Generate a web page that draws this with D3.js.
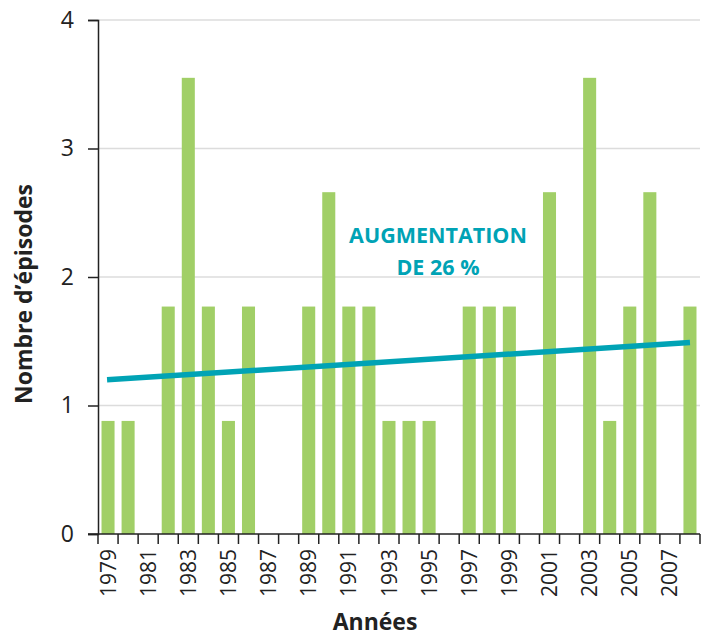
<!DOCTYPE html>
<html><head><meta charset="utf-8">
<script src="https://d3js.org/d3.v7.min.js"></script>
<style>body{margin:0;background:#fff}</style>
</head><body>
<svg id="c" width="705" height="637"></svg>
<script>
const years = [1979,1980,1981,1982,1983,1984,1985,1986,1987,1988,1989,1990,1991,1992,1993,1994,1995,1996,1997,1998,1999,2000,2001,2002,2003,2004,2005,2006,2007,2008];
const episodes = [0.88,0.88,0,1.77,3.55,1.77,0.88,1.77,0,0,1.77,2.66,1.77,1.77,0.88,0.88,0.88,0,1.77,1.77,1.77,0,2.66,0,3.55,0.88,1.77,2.66,0,1.77];
const trendYears = [1979, 2008];
const trendValues = [1.20, 1.49];
const yTicks = [0,1,2,3,4];
const xTickLabels = [1979,1981,1983,1985,1987,1989,1991,1993,1995,1997,1999,2001,2003,2005,2007];
const annotation = ["AUGMENTATION","DE 26 %"];

const FONT = "'Open Sans',sans-serif";
const svg = d3.select("#c");
const mLeft = 98, mRight = 700, mTop = 20, mBottom = 534;
const x = d3.scaleBand().domain(years).range([mLeft, mRight]).paddingInner(0.35).paddingOuter(0.175);
const y = d3.scaleLinear().domain([0,4]).range([mBottom, mTop]);

// gridlines
svg.append("g").selectAll("line").data(yTicks.filter(d=>d>0)).join("line")
  .attr("x1", mLeft).attr("x2", mRight).attr("y1", d=>y(d)).attr("y2", d=>y(d))
  .attr("stroke", "#dcdcdc").attr("stroke-width", 1.5);

// bars
svg.append("g").selectAll("rect").data(years.map((yr,i)=>({yr, v:episodes[i]})).filter(d=>d.v>0)).join("rect")
  .attr("x", d=>x(d.yr)).attr("width", x.bandwidth())
  .attr("y", d=>y(d.v)).attr("height", d=>y(0)-y(d.v))
  .attr("fill", "#a1cf67");

// y axis
const yAxis = svg.append("g").attr("transform", `translate(${mLeft},0)`)
  .call(d3.axisLeft(y).tickValues(yTicks).tickSize(10).tickPadding(14).tickFormat(d3.format("d")));
yAxis.select(".domain").attr("stroke", "#222").attr("stroke-width", 1.5);
yAxis.selectAll(".tick line").attr("stroke", "#222").attr("stroke-width", 1.5);
yAxis.selectAll("text").attr("font-family", FONT).attr("font-size", 23).attr("fill", "#222");

// x axis: ticks at band boundaries
const bounds = years.map(yr=>x(yr) - x.step()*x.paddingInner()/2).concat([mRight]);
const xg = svg.append("g");
xg.append("line").attr("x1", mLeft-10).attr("x2", mRight).attr("y1", mBottom).attr("y2", mBottom)
  .attr("stroke", "#222").attr("stroke-width", 1.5);
xg.selectAll(".tk").data(bounds).join("line").attr("class","tk")
  .attr("x1", d=>d).attr("x2", d=>d).attr("y1", mBottom).attr("y2", mBottom+10)
  .attr("stroke", "#222").attr("stroke-width", 1.5);
xg.selectAll("text").data(xTickLabels).join("text")
  .attr("transform", d=>`translate(${x(d)+x.bandwidth()/2},${mBottom+15}) rotate(-90)`)
  .attr("text-anchor", "end").attr("dy", "0.36em")
  .attr("font-family", FONT).attr("font-size", 21).attr("fill", "#222")
  .text(d=>d);

// trend
const xc = d => x(d) + x.bandwidth()/2;
svg.append("line")
  .attr("x1", xc(trendYears[0])-1).attr("y1", y(trendValues[0]))
  .attr("x2", xc(trendYears[1])).attr("y2", y(trendValues[1]))
  .attr("stroke", "#00a3b5").attr("stroke-width", 5.5);

// annotation
svg.append("text").attr("x", 438).attr("y", 243).attr("text-anchor","middle")
  .attr("font-family", FONT).attr("font-weight","bold").attr("font-size", 21.5).attr("fill","#00a3b5")
  .text(annotation[0]);
svg.append("text").attr("x", 438).attr("y", 275).attr("text-anchor","middle")
  .attr("font-family", FONT).attr("font-weight","bold").attr("font-size", 21.5).attr("fill","#00a3b5")
  .text(annotation[1]);

// titles
svg.append("text").attr("x", 375).attr("y", 630).attr("text-anchor","middle")
  .attr("font-family", FONT).attr("font-weight","bold").attr("font-size", 23).attr("fill","#222")
  .text("Années");
svg.append("text").attr("transform","translate(32,294) rotate(-90)").attr("text-anchor","middle")
  .attr("font-family", FONT).attr("font-weight","bold").attr("font-size", 23).attr("fill","#222")
  .text("Nombre d’épisodes");
</script>
</body></html>
